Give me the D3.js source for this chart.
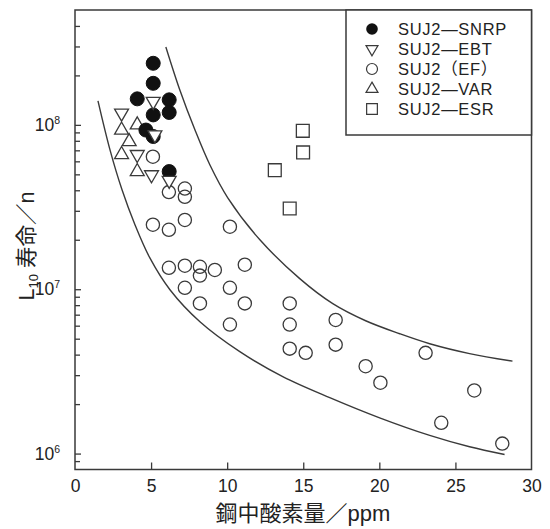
<!DOCTYPE html>
<html><head><meta charset="utf-8">
<script src="https://cdn.jsdelivr.net/npm/d3@7"></script>
<style>
html,body{margin:0;padding:0;background:#fff;}
svg{display:block;}
text{font-family:"Liberation Sans",Arial,"Noto Sans CJK JP",sans-serif;fill:#222;}
</style></head>
<body>
<script>
// ---- data ----
const xTickValues = [0, 5, 10, 15, 20, 25, 30];
const yMajorTicks = [1e6, 1e7, 1e8];
const yExponents = ["6", "7", "8"];
const yMinorTicks = [9e5, 2e6, 3e6, 4e6, 5e6, 6e6, 7e6, 8e6, 9e6, 2e7, 3e7, 4e7, 5e7, 6e7, 7e7, 8e7, 9e7, 2e8, 3e8, 4e8];

const snrpX = [5.14, 5.14, 4.09, 6.19, 5.14, 6.19, 4.66, 5.14, 6.19];
const snrpY = [2.37e8, 1.79e8, 1.44e8, 1.42e8, 1.15e8, 1.19e8, 9.3e7, 8.5e7, 5.2e7];

const ebtX = [3.06, 5.14, 4.09, 5.25, 5.03, 6.19];
const ebtY = [1.18e8, 1.39e8, 6.6e7, 8.7e7, 4.97e7, 4.6e7];

const efX = [5.12, 6.17, 7.22, 7.22, 5.12, 6.17, 7.22, 10.18, 6.17, 7.22, 8.21, 8.21, 9.19, 11.16, 7.22, 10.18, 8.21, 11.16, 10.18, 14.11, 14.11, 14.11, 15.16, 17.13, 17.13, 19.1, 20.07, 23.04, 26.24, 24.07, 28.08];
const efY = [6.4e7, 3.9e7, 4.1e7, 3.65e7, 2.47e7, 2.3e7, 2.64e7, 2.4e7, 1.35e7, 1.39e7, 1.37e7, 1.21e7, 1.31e7, 1.41e7, 1.02e7, 1.02e7, 8.2e6, 8.2e6, 6.1e6, 8.2e6, 6.1e6, 4.35e6, 4.1e6, 6.5e6, 4.6e6, 3.4e6, 2.7e6, 4.1e6, 2.42e6, 1.54e6, 1.15e6];

const varX = [3.06, 4.09, 3.56, 3.06, 4.09];
const varY = [9.3e7, 1.0e8, 7.9e7, 6.6e7, 5.2e7];

const esrX = [14.97, 14.99, 13.13, 14.11];
const esrY = [9.2e7, 6.8e7, 5.3e7, 3.1e7];

const upperCurveX = [5.97, 6.89, 7.88, 8.86, 10.04, 12.15, 14.77, 16.94, 19.10, 21.34, 23.31, 25.93, 28.75];
const upperCurveY = [2.98e8, 1.63e8, 9.33e7, 5.72e7, 3.60e7, 2.00e7, 1.16e7, 8.17e6, 6.43e6, 5.36e6, 4.66e6, 4.06e6, 3.65e6];

const lowerCurveX = [1.51, 2.30, 3.09, 3.94, 4.92, 6.24, 8.21, 10.83, 13.65, 16.74, 20.02, 23.31, 25.93, 28.23];
const lowerCurveY = [1.40e8, 7.05e7, 4.03e7, 2.47e7, 1.55e7, 9.93e6, 6.34e6, 4.17e6, 2.94e6, 2.19e6, 1.65e6, 1.29e6, 1.10e6, 9.87e5];

const legendLabels = ["SUJ2—SNRP", "SUJ2—EBT", "SUJ2（EF）", "SUJ2—VAR", "SUJ2—ESR"];
const xLabel = "鋼中酸素量／ppm";

// ---- drawing ----
const W = 550, H = 529;
const pL = 75, pR = 531.5, pT = 10, pB = 469.5;
const ink = "#3a3a3a";

const svg = d3.select("body").append("svg").attr("width", W).attr("height", H);

const x = d3.scaleLinear().domain([0, 30]).range([pL, pR]);
const y = d3.scaleLog().domain([8e5, 5e8]).range([pB, pT]);

// curves
const line = d3.line().x(d => x(d[0])).y(d => y(d[1])).curve(d3.curveCatmullRom.alpha(0.5));
[[upperCurveX, upperCurveY], [lowerCurveX, lowerCurveY]].forEach(([cx, cy]) => {
  svg.append("path").datum(cx.map((v, i) => [v, cy[i]]))
    .attr("d", line).attr("fill", "none").attr("stroke", ink).attr("stroke-width", 1.4);
});

// axes
const yMinorAxis = d3.axisLeft(y).tickValues(yMinorTicks).tickSizeInner(-5).tickSizeOuter(0).tickFormat("");
const yMajorAxis = d3.axisLeft(y).tickValues(yMajorTicks).tickSizeInner(-6).tickSizeOuter(0).tickFormat("");
const gy1 = svg.append("g").attr("transform", `translate(${pL},0)`).call(yMinorAxis);
const gy2 = svg.append("g").attr("transform", `translate(${pL},0)`).call(yMajorAxis);
[gy1, gy2].forEach(g => { g.select(".domain").remove(); g.selectAll("line").attr("stroke", ink).attr("stroke-width", 1.3); });

const xAxis = d3.axisBottom(x).tickValues(xTickValues).tickSizeInner(-7).tickSizeOuter(0).tickPadding(10).tickFormat(d3.format("d"));
const gx = svg.append("g").attr("transform", `translate(0,${pB})`).call(xAxis);
gx.select(".domain").remove();
gx.selectAll("line").attr("stroke", ink).attr("stroke-width", 1.3);
gx.selectAll(".tick").filter(d => d === 0 || d === 30).select("line").remove();
gx.selectAll("text").attr("font-size", 17.5).attr("fill", "#222")
  .style("font-family", '"Liberation Sans",Arial,sans-serif').attr("dy", "0.71em").attr("y", 10);

// y labels with superscripts
yMajorTicks.forEach((v, i) => {
  const t = svg.append("text").attr("x", 60).attr("y", y(v) + 6).attr("text-anchor", "end").attr("font-size", 17.5);
  t.append("tspan").text("10");
  t.append("tspan").attr("font-size", 10.5).attr("dy", -7).text(yExponents[i]);
});

// frame
svg.append("rect").attr("x", pL).attr("y", pT).attr("width", pR - pL).attr("height", pB - pT)
  .attr("fill", "none").attr("stroke", ink).attr("stroke-width", 1.5);

// markers
const triUp = d3.symbol().type(d3.symbolTriangle).size(84)();
const sq = d3.symbol().type(d3.symbolSquare).size(165)();

svg.append("g").selectAll("circle").data(efX.map((v, i) => [v, efY[i]])).join("circle")
  .attr("cx", d => x(d[0])).attr("cy", d => y(d[1])).attr("r", 6.6)
  .attr("fill", "none").attr("stroke", ink).attr("stroke-width", 1.3);

svg.append("g").selectAll("path").data(varX.map((v, i) => [v, varY[i]])).join("path")
  .attr("d", triUp).attr("transform", d => `translate(${x(d[0])},${y(d[1])})`)
  .attr("fill", "none").attr("stroke", ink).attr("stroke-width", 1.3);

svg.append("g").selectAll("circle").data(snrpX.map((v, i) => [v, snrpY[i]])).join("circle")
  .attr("cx", d => x(d[0])).attr("cy", d => y(d[1])).attr("r", 7)
  .attr("fill", "#111").attr("stroke", "#111").attr("stroke-width", 1);

svg.append("g").selectAll("path").data(ebtX.map((v, i) => [v, ebtY[i]])).join("path")
  .attr("d", triUp).attr("transform", d => `translate(${x(d[0])},${y(d[1])}) rotate(180)`)
  .attr("fill", "#fff").attr("stroke", ink).attr("stroke-width", 1.3);

svg.append("g").selectAll("path").data(esrX.map((v, i) => [v, esrY[i]])).join("path")
  .attr("d", sq).attr("transform", d => `translate(${x(d[0])},${y(d[1])})`)
  .attr("fill", "none").attr("stroke", ink).attr("stroke-width", 1.3);

// legend
const lg = svg.append("g");
lg.append("rect").attr("x", 346).attr("y", pT).attr("width", pR - 346).attr("height", 125)
  .attr("fill", "#fff").attr("stroke", ink).attr("stroke-width", 1.5);
const rowY = i => 29 + i * 20;
const lsx = 372;
lg.append("circle").attr("cx", lsx).attr("cy", rowY(0)).attr("r", 5.8).attr("fill", "#111");
lg.append("path").attr("d", d3.symbol().type(d3.symbolTriangle).size(62)()).attr("transform", `translate(${lsx},${rowY(1)}) rotate(180)`).attr("fill", "none").attr("stroke", ink).attr("stroke-width", 1.2);
lg.append("circle").attr("cx", lsx).attr("cy", rowY(2)).attr("r", 5.5).attr("fill", "none").attr("stroke", ink).attr("stroke-width", 1.2);
lg.append("path").attr("d", d3.symbol().type(d3.symbolTriangle).size(62)()).attr("transform", `translate(${lsx},${rowY(3)})`).attr("fill", "none").attr("stroke", ink).attr("stroke-width", 1.2);
lg.append("path").attr("d", d3.symbol().type(d3.symbolSquare).size(115)()).attr("transform", `translate(${lsx},${rowY(4)})`).attr("fill", "none").attr("stroke", ink).attr("stroke-width", 1.2);
legendLabels.forEach((s, i) => {
  lg.append("text").attr("x", 398).attr("y", rowY(i) + 6).attr("font-size", 16.5).attr("letter-spacing", 0.7).text(s);
});

// axis titles
svg.append("text").attr("x", 303).attr("y", 521).attr("text-anchor", "middle").attr("font-size", 22).text(xLabel);

const yl = svg.append("text").attr("transform", "translate(34,246) rotate(-90)").attr("text-anchor", "middle").attr("font-size", 21.5);
yl.append("tspan").text("L");
yl.append("tspan").attr("font-size", 13).attr("dy", 4).text("10");
yl.append("tspan").attr("dy", -4).text(" 寿命／n");
</script>
</body></html>
